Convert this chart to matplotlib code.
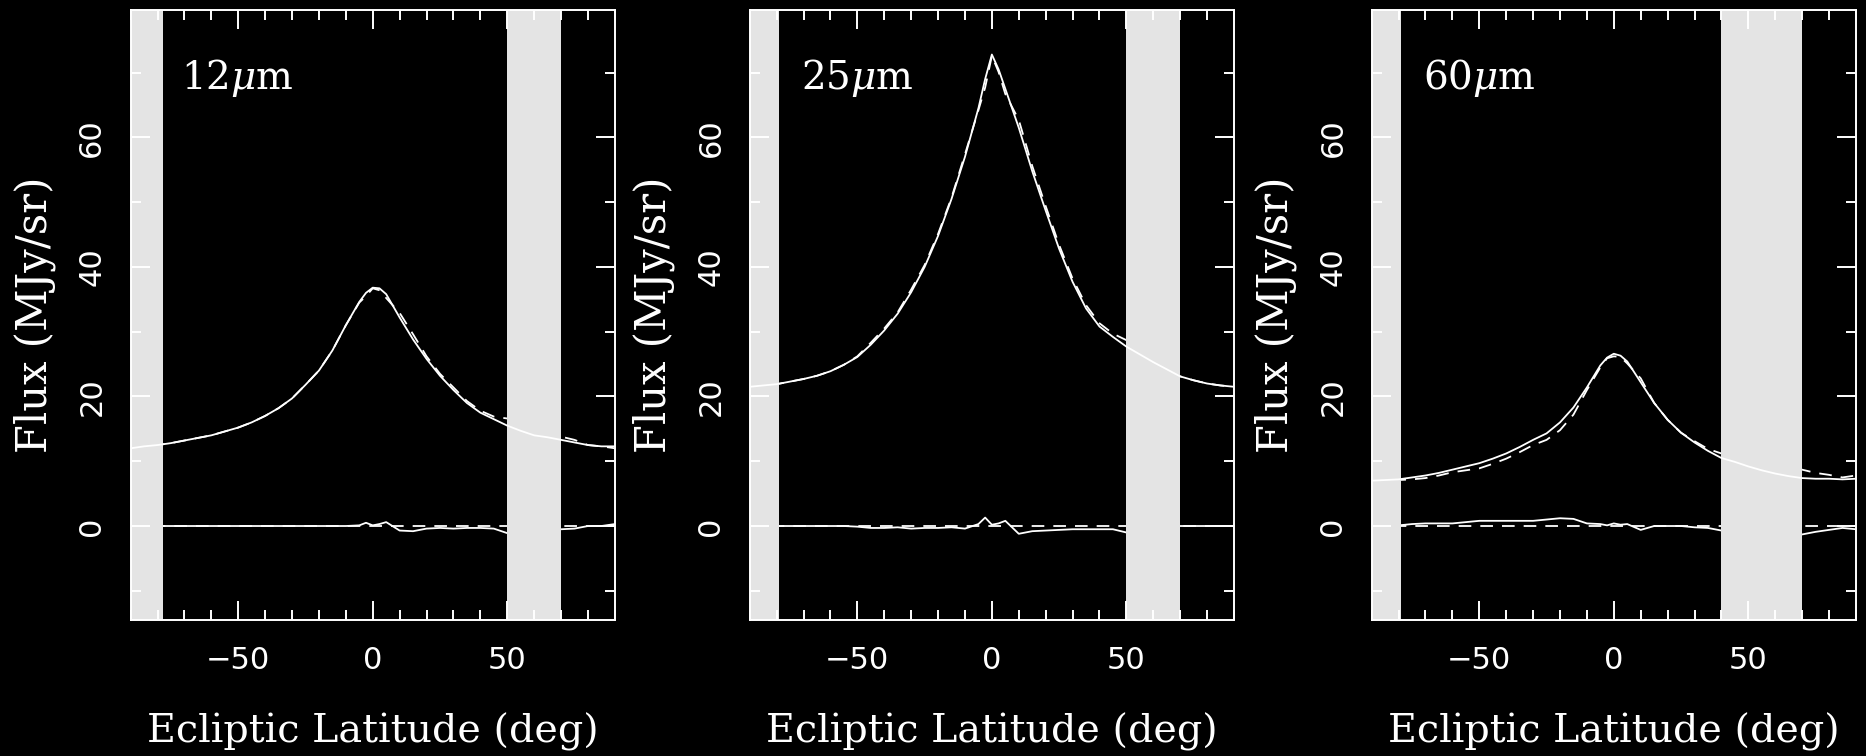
import numpy as np
import matplotlib
matplotlib.use('Agg')
import matplotlib.pyplot as plt
from matplotlib.ticker import MultipleLocator

plt.rcParams['mathtext.fontset'] = 'dejavuserif'

# ecliptic latitude grid (deg)
lat = [-90, -85, -80, -75, -70, -65, -60, -55, -50, -45, -40, -35, -30,
       -25, -20, -15, -10, -5, -2.5, 0, 2.5, 5, 10, 15, 20, 25, 30, 35,
       40, 45, 50, 55, 60, 65, 70, 75, 80, 85, 90]

# observed flux (MJy/sr)
flux_12 = [12.0, 12.3, 12.5, 12.8, 13.2, 13.6, 14.0, 14.6, 15.2, 16.0,
           17.0, 18.2, 19.7, 21.8, 24.0, 27.1, 31.0, 34.6, 36.0, 36.8,
           36.7, 35.8, 32.2, 28.8, 25.8, 23.2, 21.0, 19.0, 17.5, 16.5,
           15.5, 14.7, 14.0, 13.7, 13.3, 12.9, 12.5, 12.3, 12.3]
flux_25 = [21.5, 21.7, 21.9, 22.3, 22.7, 23.2, 23.9, 24.9, 26.1, 28.0,
           30.2, 32.8, 36.1, 40.0, 44.8, 50.5, 57.0, 64.5, 69.0, 72.8,
           70.5, 67.5, 61.5, 54.8, 48.7, 42.8, 37.7, 33.6, 30.8, 29.2,
           27.7, 26.5, 25.3, 24.2, 23.1, 22.5, 22.0, 21.7, 21.5]
flux_60 = [7.0, 7.1, 7.2, 7.5, 7.8, 8.2, 8.7, 9.2, 9.7, 10.4,
           11.2, 12.2, 13.3, 14.3, 16.0, 18.3, 21.4, 24.8, 26.0, 26.6,
           26.3, 25.4, 22.2, 19.0, 16.4, 14.4, 12.9, 11.6, 10.5, 9.9,
           9.2, 8.6, 8.1, 7.7, 7.4, 7.3, 7.3, 7.2, 7.3]

# observed minus model
resid_12 = [0.0, 0.0, 0.0, 0.0, 0.0, 0.0, 0.0, 0.0, 0.0, 0.0,
            0.0, 0.0, 0.0, 0.0, 0.0, 0.0, 0.0, 0.1, 0.5, 0.1,
            0.3, 0.6, -0.7, -0.8, -0.4, -0.3, -0.4, -0.3, -0.3, -0.4,
            -1.1, -1.0, -0.9, -0.7, -0.5, -0.4, 0.0, 0.0, 0.3]
resid_25 = [0.0, 0.0, 0.0, 0.0, 0.0, 0.0, 0.0, 0.0, -0.1, -0.3,
            -0.3, -0.2, -0.4, -0.3, -0.3, -0.2, -0.4, 0.3, 1.3, 0.2,
            0.4, 0.8, -1.2, -0.8, -0.7, -0.6, -0.5, -0.5, -0.5, -0.5,
            -1.0, -0.6, -0.3, -0.1, 0.0, 0.0, 0.0, 0.0, 0.0]
resid_60 = [0.1, 0.1, 0.1, 0.3, 0.4, 0.4, 0.4, 0.6, 0.8, 0.8,
            0.8, 0.8, 0.8, 1.0, 1.2, 1.1, 0.4, 0.3, 0.1, 0.4,
            0.2, 0.3, -0.6, 0.0, 0.0, 0.0, -0.2, -0.3, -0.7, -0.9,
            -1.0, -1.1, -1.2, -1.3, -1.3, -0.9, -0.6, -0.3, -0.5]

# latitude ranges excluded from the fit
bands_12 = [(-90, -78), (50, 70)]
bands_25 = [(-90, -79), (50, 70)]
bands_60 = [(-90, -79), (40, 70)]

panels = [
    (r'12$\mu$m', flux_12, resid_12, bands_12),
    (r'25$\mu$m', flux_25, resid_25, bands_25),
    (r'60$\mu$m', flux_60, resid_60, bands_60),
]

fig = plt.figure(figsize=(18.66, 7.56), dpi=100, facecolor='black')
lefts = [0.0700, 0.4018, 0.7351]
lw = 1.3
dash = (7, 5)

for left, (name, flux, resid, bands) in zip(lefts, panels):
    ax = fig.add_axes([left, 0.180, 0.2595, 0.807])
    ax.set_facecolor('black')
    ax.set_axisbelow(False)

    x = np.array(lat)
    f = np.array(flux)
    r = np.array(resid)
    model = f - r

    ax.plot(x, model, color='white', lw=lw, dashes=dash, zorder=1)
    ax.axhline(0, color='white', lw=lw, dashes=dash, zorder=1)
    ax.plot(x, r, color='white', lw=lw, zorder=1)
    for lo, hi in bands:
        ax.axvspan(lo, hi, color='#e4e4e4', lw=0, zorder=2)
    ax.plot(x, f, color='white', lw=lw, zorder=3)

    ax.set_xlim(-90, 90)
    ax.set_ylim(-14.5, 79.7)
    ax.xaxis.set_major_locator(MultipleLocator(50))
    ax.xaxis.set_minor_locator(MultipleLocator(10))
    ax.yaxis.set_major_locator(MultipleLocator(20))
    ax.yaxis.set_minor_locator(MultipleLocator(10))
    ax.tick_params(which='both', direction='in', top=True, right=True,
                   color='white', width=1.4, labelcolor='white',
                   labelsize=22)
    ax.tick_params(which='major', length=13.5)
    ax.tick_params(which='minor', length=7)
    ax.tick_params(axis='x', pad=19)
    ax.tick_params(axis='y', pad=17.5)
    for lab in ax.get_yticklabels():
        lab.set_rotation(90)
        lab.set_va('center')
    for s in ax.spines.values():
        s.set_color('white')
        s.set_linewidth(1.4)
        s.set_zorder(4)

    ax.set_xlabel('Ecliptic Latitude (deg)', color='white', fontsize=28.5,
                  family='DejaVu Serif', va='center')
    ax.xaxis.set_label_coords(0.5, -0.1835)
    ax.set_ylabel('Flux (MJy/sr)', color='white', fontsize=30,
                  family='DejaVu Serif', va='center')
    ax.yaxis.set_label_coords(-0.198, 0.5)
    ax.text(0.105, 0.889, name, transform=ax.transAxes, color='white',
            fontsize=28, family='DejaVu Serif', va='center', ha='left')

fig.savefig('out.png', dpi=100, facecolor='black')
